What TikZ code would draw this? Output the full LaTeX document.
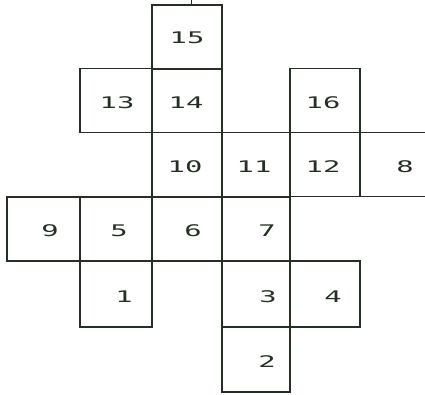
\documentclass[tikz,border=0pt]{standalone}
\usepackage{fontspec}
\newfontfamily\dotfont[FakeStretch=1.8]{DejaVu Sans Mono}
\definecolor{ink}{HTML}{243024}
\begin{document}
\begin{tikzpicture}[x=1pt,y=-1pt,
  cell/.style={draw=ink, line width=1.8pt, minimum width=70pt, minimum height=64pt, inner sep=0pt, outer sep=0pt},
  edge8/.style={draw=ink, line width=1.8pt, line cap=rect},
  num/.style={text=ink, font=\dotfont\fontsize{16}{16}\selectfont, inner sep=0pt}]
\fill[white] (0,0) rectangle (425,394);
\useasboundingbox (0,0) rectangle (425,394);
% cells (centre coordinates)
\node[cell, minimum width=70pt] (c15) at (187,37) {};
\node[cell, minimum width=72pt] (c13) at (116,100.5) {};
\node[cell] (c14) at (187,100.5) {};
\node[cell] (c16) at (325,100.5) {};
\node[cell] (c10) at (187,164.5) {};
\node[cell, minimum width=68pt] (c11) at (256,164.5) {};
\node[cell] (c12) at (325,164.5) {};
\node[cell, minimum width=73pt] (c9) at (43.5,229) {};
\node[cell, minimum width=72pt] (c5) at (116,229) {};
\node[cell] (c6) at (187,229) {};
\node[cell, minimum width=68pt] (c7) at (256,229) {};
\node[cell, minimum width=72pt, minimum height=66pt] (c1) at (116,294) {};
\node[cell, minimum width=68pt, minimum height=66pt] (c3) at (256,294) {};
\node[cell, minimum height=66pt] (c4) at (325,294) {};
\node[cell, minimum width=68pt, minimum height=65pt] (c2) at (256,359.5) {};
% cell 8, open to the right
\coordinate (e8t) at (430,132.5);
\coordinate (e8b) at (430,196.5);
\draw[edge8] (c12.north east) -- (e8t);
\draw[edge8] (c12.south east) -- (e8b);
% tick above 15
\coordinate (tk) at (191,-2);
\draw[ink, line width=1pt] (tk) -- (tk |- c15.north);
% numbers
\node[num] (n15) at (187,38) {15};
\node[num] (n13) at (117,103) {13};
\node[num] (n14) at (186,103) {14};
\node[num] (n16) at (323,103) {16};
\node[num] (n10) at (185,167) {10};
\node[num] (n11) at (254,167) {11};
\node[num] (n12) at (323,167) {12};
\node[num] (n8)  at (405,167) {8};
\node[num] (n9)  at (50,231) {9};
\node[num] (n5)  at (119,231) {5};
\node[num] (n6)  at (193,231) {6};
\node[num] (n7)  at (267,231) {7};
\node[num] (n1)  at (124,297) {1};
\node[num] (n3)  at (268,297) {3};
\node[num] (n4)  at (333,297) {4};
\node[num] (n2)  at (267,362) {2};
\end{tikzpicture}
\end{document}
